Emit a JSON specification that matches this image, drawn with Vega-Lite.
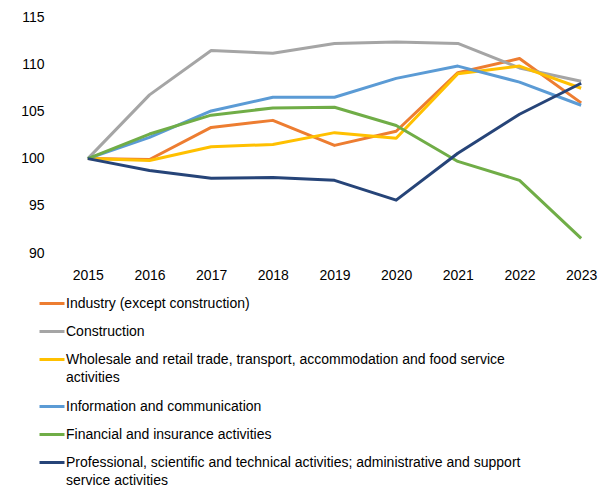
{
  "$schema": "https://vega.github.io/schema/vega-lite/v6.json",
  "autosize": {"type": "none"},
  "width": 555,
  "height": 236,
  "padding": {"left": 57, "top": 17, "right": 3, "bottom": 241},
  "background": "#ffffff",
  "config": {
    "view": {"stroke": null},
    "font": "Liberation Sans",
    "axis": {"labelFont": "Liberation Sans", "labelFontSize": 14, "labelColor": "#000000"},
    "legend": {"labelFont": "Liberation Sans", "labelFontSize": 14, "labelColor": "#000000"}
  },
  "data": {
    "values": [
      {"series": "Industry (except construction)", "year": "2015", "value": 100},
      {"series": "Industry (except construction)", "year": "2016", "value": 99.9},
      {"series": "Industry (except construction)", "year": "2017", "value": 103.3},
      {"series": "Industry (except construction)", "year": "2018", "value": 104.05},
      {"series": "Industry (except construction)", "year": "2019", "value": 101.4},
      {"series": "Industry (except construction)", "year": "2020", "value": 102.9},
      {"series": "Industry (except construction)", "year": "2021", "value": 109.1},
      {"series": "Industry (except construction)", "year": "2022", "value": 110.6},
      {"series": "Industry (except construction)", "year": "2023", "value": 105.9},
      {"series": "Construction", "year": "2015", "value": 100},
      {"series": "Construction", "year": "2016", "value": 106.75},
      {"series": "Construction", "year": "2017", "value": 111.45},
      {"series": "Construction", "year": "2018", "value": 111.15},
      {"series": "Construction", "year": "2019", "value": 112.2},
      {"series": "Construction", "year": "2020", "value": 112.35},
      {"series": "Construction", "year": "2021", "value": 112.2},
      {"series": "Construction", "year": "2022", "value": 109.6},
      {"series": "Construction", "year": "2023", "value": 108.2},
      {"series": "Wholesale and retail trade, transport, accommodation and food service activities", "year": "2015", "value": 100},
      {"series": "Wholesale and retail trade, transport, accommodation and food service activities", "year": "2016", "value": 99.8},
      {"series": "Wholesale and retail trade, transport, accommodation and food service activities", "year": "2017", "value": 101.25},
      {"series": "Wholesale and retail trade, transport, accommodation and food service activities", "year": "2018", "value": 101.5},
      {"series": "Wholesale and retail trade, transport, accommodation and food service activities", "year": "2019", "value": 102.75},
      {"series": "Wholesale and retail trade, transport, accommodation and food service activities", "year": "2020", "value": 102.15},
      {"series": "Wholesale and retail trade, transport, accommodation and food service activities", "year": "2021", "value": 109.0},
      {"series": "Wholesale and retail trade, transport, accommodation and food service activities", "year": "2022", "value": 109.8},
      {"series": "Wholesale and retail trade, transport, accommodation and food service activities", "year": "2023", "value": 107.45},
      {"series": "Information and communication", "year": "2015", "value": 100},
      {"series": "Information and communication", "year": "2016", "value": 102.25},
      {"series": "Information and communication", "year": "2017", "value": 105.05},
      {"series": "Information and communication", "year": "2018", "value": 106.5},
      {"series": "Information and communication", "year": "2019", "value": 106.5},
      {"series": "Information and communication", "year": "2020", "value": 108.5},
      {"series": "Information and communication", "year": "2021", "value": 109.8},
      {"series": "Information and communication", "year": "2022", "value": 108.1},
      {"series": "Information and communication", "year": "2023", "value": 105.65},
      {"series": "Financial and insurance activities", "year": "2015", "value": 100},
      {"series": "Financial and insurance activities", "year": "2016", "value": 102.6},
      {"series": "Financial and insurance activities", "year": "2017", "value": 104.6},
      {"series": "Financial and insurance activities", "year": "2018", "value": 105.37},
      {"series": "Financial and insurance activities", "year": "2019", "value": 105.44},
      {"series": "Financial and insurance activities", "year": "2020", "value": 103.5},
      {"series": "Financial and insurance activities", "year": "2021", "value": 99.7},
      {"series": "Financial and insurance activities", "year": "2022", "value": 97.7},
      {"series": "Financial and insurance activities", "year": "2023", "value": 91.55},
      {"series": "Professional, scientific and technical activities; administrative and support service activities", "year": "2015", "value": 100},
      {"series": "Professional, scientific and technical activities; administrative and support service activities", "year": "2016", "value": 98.73},
      {"series": "Professional, scientific and technical activities; administrative and support service activities", "year": "2017", "value": 97.92},
      {"series": "Professional, scientific and technical activities; administrative and support service activities", "year": "2018", "value": 98.0},
      {"series": "Professional, scientific and technical activities; administrative and support service activities", "year": "2019", "value": 97.7},
      {"series": "Professional, scientific and technical activities; administrative and support service activities", "year": "2020", "value": 95.6},
      {"series": "Professional, scientific and technical activities; administrative and support service activities", "year": "2021", "value": 100.57},
      {"series": "Professional, scientific and technical activities; administrative and support service activities", "year": "2022", "value": 104.7},
      {"series": "Professional, scientific and technical activities; administrative and support service activities", "year": "2023", "value": 107.98}
    ]
  },
  "mark": {"type": "line", "strokeWidth": 3, "strokeJoin": "round"},
  "encoding": {
    "x": {
      "field": "year",
      "type": "ordinal",
      "scale": {"type": "point", "padding": 0.5},
      "axis": {"title": null, "labelAngle": 0, "domain": false, "ticks": false, "tickSize": 0, "labelPadding": 15, "grid": false}
    },
    "y": {
      "field": "value",
      "type": "quantitative",
      "scale": {"domain": [90, 115], "nice": false, "zero": false},
      "axis": {"title": null, "values": [90, 95, 100, 105, 110, 115], "domain": false, "ticks": false, "tickSize": 0, "grid": false, "labelPadding": 13}
    },
    "color": {
      "field": "series",
      "type": "nominal",
      "sort": null,
      "scale": {
        "domain": [
          "Industry (except construction)",
          "Construction",
          "Wholesale and retail trade, transport, accommodation and food service activities",
          "Information and communication",
          "Financial and insurance activities",
          "Professional, scientific and technical activities; administrative and support service activities"
        ],
        "range": ["#ED7D31", "#A5A5A5", "#FFC000", "#5B9BD5", "#70AD47", "#264478"]
      },
      "legend": {
        "title": null,
        "orient": "none",
        "legendX": -19,
        "legendY": 272.5,
        "padding": 0,
        "direction": "vertical",
        "symbolType": "stroke",
        "symbolSize": 625,
        "symbolStrokeWidth": 3,
        "labelOffset": 0,
        "labelLimit": 600,
        "rowPadding": 7,
        "labelExpr": "datum.label == 'Wholesale and retail trade, transport, accommodation and food service activities' ? ['Wholesale and retail trade, transport, accommodation and food service', 'activities'] : datum.label == 'Professional, scientific and technical activities; administrative and support service activities' ? ['Professional, scientific and technical activities; administrative and support', 'service activities'] : datum.label",
        "encode": {
          "labels": {"update": {"lineHeight": {"value": 18.5}}}
        }
      }
    }
  }
}
